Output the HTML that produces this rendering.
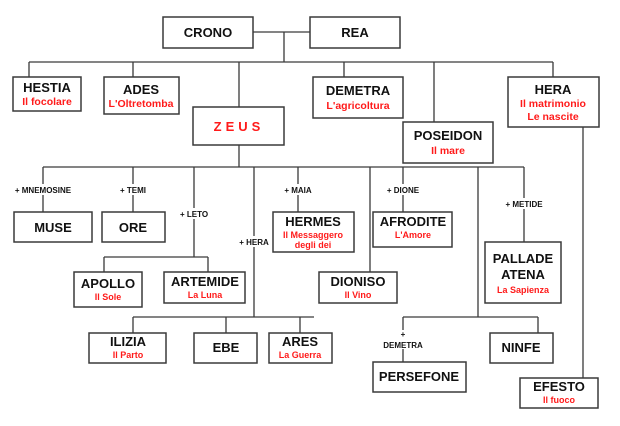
<!DOCTYPE html>
<html><head><meta charset="utf-8"><style>
html,body{margin:0;padding:0;background:#fff;width:620px;height:426px;overflow:hidden}
svg{display:block}
.b{fill:#fff;stroke:#3a3a3a;stroke-width:1.5}
.l{stroke:#3a3a3a;stroke-width:1.3;fill:none}
.t{font-family:"Liberation Sans",sans-serif;font-weight:bold;font-size:13px;fill:#111;text-anchor:middle}
.s{font-family:"Liberation Sans",sans-serif;font-weight:bold;font-size:10.5px;fill:#ff1a1a;text-anchor:middle}
.s2{font-family:"Liberation Sans",sans-serif;font-weight:bold;font-size:9px;fill:#ff1a1a;text-anchor:middle}
.k{font-family:"Liberation Sans",sans-serif;font-weight:bold;font-size:8px;fill:#111;text-anchor:middle}
</style></head><body>
<svg width="620" height="426" viewBox="0 0 620 426">
<g class="l">
<path d="M253 32H310M284 32V62M29 62H553M29 62V77M133 62V77M239 62V107M344 62V77M434 62V122M553 62V77"/>
<path d="M239 145V167M43 167H524"/>
<path d="M43 167V184M43 195V212M133 167V184M133 195V212"/>
<path d="M194 167V208M194 219V257M104 257H208M104 257V272M208 257V272"/>
<path d="M254 167V236M254 247V317M133 317H314M133 317V333M226 317V333M300 317V333"/>
<path d="M298 167V184M298 195V212"/>
<path d="M370 167V272"/>
<path d="M403 167V184M403 195V212"/>
<path d="M478 167V317M403 317H538M403 317V330M538 317V333M403 349V362"/>
<path d="M524 167V198M524 209V242"/>
<path d="M583 127V378"/>
</g>
<rect class="b" x="163" y="17" width="90" height="31"/><text class="t" x="208" y="37">CRONO</text>
<rect class="b" x="310" y="17" width="90" height="31"/><text class="t" x="355" y="37">REA</text>
<rect class="b" x="13" y="77" width="68" height="34"/><text class="t" x="47" y="92">HESTIA</text><text class="s" x="47" y="105">Il focolare</text>
<rect class="b" x="104" y="77" width="75" height="37"/><text class="t" x="141" y="94">ADES</text><text class="s" x="141" y="107">L'Oltretomba</text>
<rect class="b" x="193" y="107" width="91" height="38"/><text class="t" x="239" y="131" style="fill:#ff1a1a;letter-spacing:4px">ZEUS</text>
<rect class="b" x="313" y="77" width="90" height="41"/><text class="t" x="358" y="95">DEMETRA</text><text class="s" x="358" y="109">L'agricoltura</text>
<rect class="b" x="403" y="122" width="90" height="41"/><text class="t" x="448" y="140">POSEIDON</text><text class="s" x="448" y="154">Il mare</text>
<rect class="b" x="508" y="77" width="91" height="50"/><text class="t" x="553" y="94">HERA</text><text class="s" x="553" y="107">Il matrimonio</text><text class="s" x="553" y="120">Le nascite</text>
<text class="k" x="43" y="193">+ MNEMOSINE</text>
<text class="k" x="133" y="193">+ TEMI</text>
<text class="k" x="194" y="217">+ LETO</text>
<text class="k" x="254" y="245">+ HERA</text>
<text class="k" x="298" y="193">+ MAIA</text>
<text class="k" x="403" y="193">+ DIONE</text>
<text class="k" x="524" y="207">+ METIDE</text>
<text class="k" x="403" y="337">+</text>
<text class="k" x="403" y="348">DEMETRA</text>
<rect class="b" x="14" y="212" width="78" height="30"/><text class="t" x="53" y="232">MUSE</text>
<rect class="b" x="102" y="212" width="63" height="30"/><text class="t" x="133" y="232">ORE</text>
<rect class="b" x="273" y="212" width="81" height="40"/><text class="t" x="313" y="226">HERMES</text><text class="s2" x="313" y="238">Il Messaggero</text><text class="s2" x="313" y="248">degli dei</text>
<rect class="b" x="373" y="212" width="79" height="35"/><text class="t" x="413" y="226">AFRODITE</text><text class="s2" x="413" y="238">L'Amore</text>
<rect class="b" x="485" y="242" width="76" height="61"/><text class="t" x="523" y="263">PALLADE</text><text class="t" x="523" y="279">ATENA</text><text class="s2" x="523" y="293">La Sapienza</text>
<rect class="b" x="74" y="272" width="68" height="35"/><text class="t" x="108" y="288">APOLLO</text><text class="s2" x="108" y="300">Il Sole</text>
<rect class="b" x="164" y="272" width="81" height="31"/><text class="t" x="205" y="286">ARTEMIDE</text><text class="s2" x="205" y="298">La Luna</text>
<rect class="b" x="319" y="272" width="78" height="31"/><text class="t" x="358" y="286">DIONISO</text><text class="s2" x="358" y="298">Il Vino</text>
<rect class="b" x="89" y="333" width="77" height="30"/><text class="t" x="128" y="346">ILIZIA</text><text class="s2" x="128" y="358">Il Parto</text>
<rect class="b" x="194" y="333" width="63" height="30"/><text class="t" x="226" y="352">EBE</text>
<rect class="b" x="269" y="333" width="63" height="30"/><text class="t" x="300" y="346">ARES</text><text class="s2" x="300" y="358">La Guerra</text>
<rect class="b" x="490" y="333" width="63" height="30"/><text class="t" x="521" y="352">NINFE</text>
<rect class="b" x="373" y="362" width="93" height="30"/><text class="t" x="419" y="381">PERSEFONE</text>
<rect class="b" x="520" y="378" width="78" height="30"/><text class="t" x="559" y="391">EFESTO</text><text class="s2" x="559" y="403">Il fuoco</text>
</svg>
</body></html>
